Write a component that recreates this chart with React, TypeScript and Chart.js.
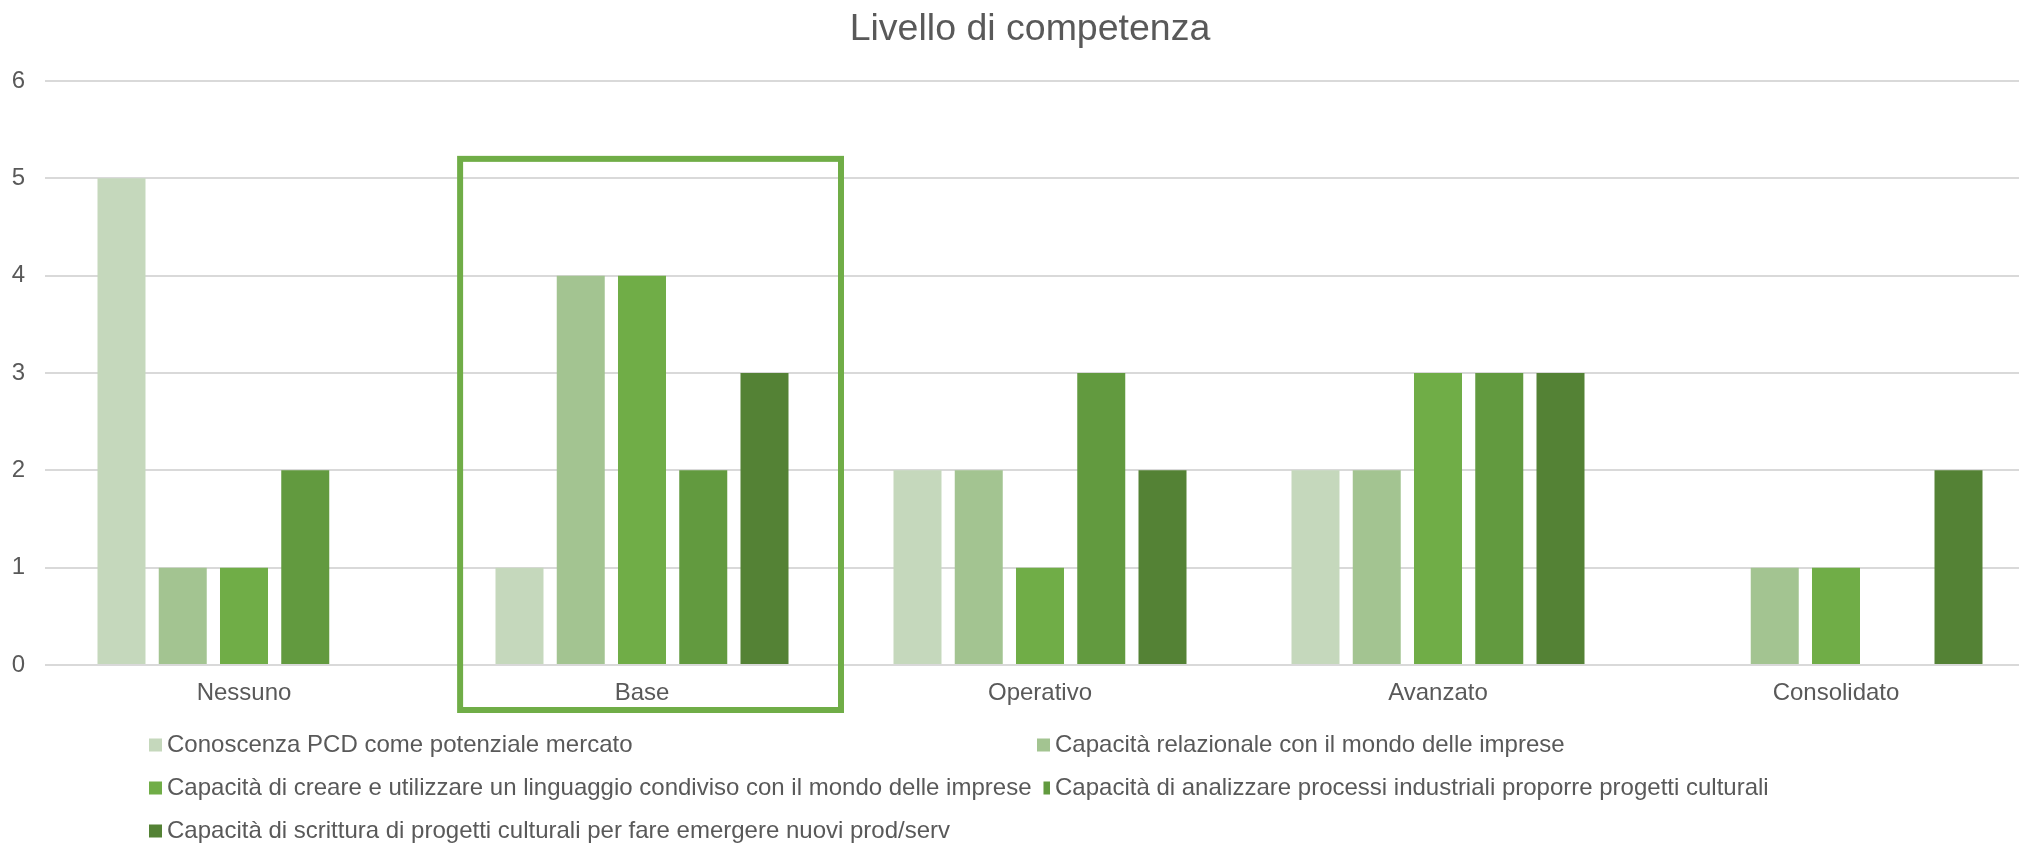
import React, { useEffect, useRef } from 'react';
import { Chart, registerables } from 'chart.js';

Chart.register(...registerables);

const TITLE = 'Livello di competenza';
const CATEGORIES = ['Nessuno', 'Base', 'Operativo', 'Avanzato', 'Consolidato'];
const SERIES_NAMES = [
  'Conoscenza PCD come potenziale mercato',
  'Capacità relazionale con il mondo delle imprese',
  'Capacità di creare e utilizzare un linguaggio condiviso con il mondo delle imprese',
  'Capacità di analizzare processi industriali proporre progetti culturali',
  'Capacità di scrittura di progetti culturali per fare emergere nuovi prod/serv',
];
const SERIES_1 = [5, 1, 2, 2, 0];
const SERIES_2 = [1, 4, 2, 2, 1];
const SERIES_3 = [1, 4, 1, 3, 1];
const SERIES_4 = [2, 2, 3, 3, 0];
const SERIES_5 = [0, 3, 2, 3, 2];
const Y_TICKS = [0, 1, 2, 3, 4, 5, 6];
const COLORS = ['#C5D8BC', '#A3C491', '#70AD47', '#629A3F', '#548235'];
const HIGHLIGHT_CATEGORY = 'Base';
const HIGHLIGHT_TOP_VALUE = 5.2;

const TEXT_COLOR = '#595959';
const FONT_FAMILY = '"Liberation Sans", Arial, sans-serif';

const titlePlugin = {
  id: 'customTitle',
  afterDraw(chart: any) {
    const ctx = chart.ctx;
    ctx.save();
    ctx.font = `37.5px ${FONT_FAMILY}`;
    ctx.fillStyle = TEXT_COLOR;
    ctx.textAlign = 'center';
    ctx.textBaseline = 'alphabetic';
    ctx.fillText(TITLE, chart.width / 2, 40);
    ctx.restore();
  },
};

const legendPlugin = {
  id: 'gridLegend',
  afterDraw(chart: any) {
    const ctx = chart.ctx;
    const area = chart.chartArea;
    ctx.save();
    ctx.font = `24px ${FONT_FAMILY}`;
    ctx.textBaseline = 'middle';
    ctx.textAlign = 'left';
    const cols = [149, 1037];
    const rowStart = area.bottom + 80;
    const rowGap = 43;
    const box = 13;
    let prevEnd = -Infinity;
    chart.data.datasets.forEach((ds: any, i: number) => {
      const col = i % 2;
      const row = Math.floor(i / 2);
      const x = cols[col];
      const y = rowStart + row * rowGap;
      const mLeft = col === 0 ? x : Math.max(x, prevEnd + 12);
      const mRight = x + box;
      ctx.fillStyle = ds.backgroundColor;
      if (mRight > mLeft) ctx.fillRect(mLeft, y - box / 2, mRight - mLeft, box);
      ctx.fillStyle = TEXT_COLOR;
      const tx = x + 18;
      ctx.fillText(ds.label, tx, y);
      prevEnd = col === 0 ? tx + ctx.measureText(ds.label).width : -Infinity;
    });
    ctx.restore();
  },
};

const highlightPlugin = {
  id: 'highlightBox',
  afterDraw(chart: any) {
    const xs = chart.scales.x;
    const ys = chart.scales.y;
    const idx = CATEGORIES.indexOf(HIGHLIGHT_CATEGORY);
    if (idx < 0) return;
    const cx = xs.getPixelForValue(idx);
    const catW = xs.width / CATEGORIES.length;
    const left = cx - 0.457 * catW;
    const right = cx + 0.5 * catW;
    const top = ys.getPixelForValue(HIGHLIGHT_TOP_VALUE);
    const bottom = chart.chartArea.bottom + 45;
    const ctx = chart.ctx;
    ctx.save();
    ctx.strokeStyle = '#70AD47';
    ctx.lineWidth = 6;
    ctx.strokeRect(left, top, right - left, bottom - top);
    ctx.restore();
  },
};

export default function App() {
  const canvasRef = useRef<HTMLCanvasElement | null>(null);

  useEffect(() => {
    const canvas = canvasRef.current;
    if (!canvas) return;
    const seriesValues = [SERIES_1, SERIES_2, SERIES_3, SERIES_4, SERIES_5];
    const chart = new Chart(canvas, {
      type: 'bar',
      data: {
        labels: CATEGORIES,
        datasets: seriesValues.map((vals, i) => ({
          label: SERIES_NAMES[i],
          data: vals,
          backgroundColor: COLORS[i],
          borderWidth: 0,
          categoryPercentage: 0.7695,
          barPercentage: 0.7837,
        })),
      },
      options: {
        responsive: false,
        maintainAspectRatio: false,
        devicePixelRatio: 1,
        animation: false,
        layout: { padding: { top: 81, right: 25, left: 0, bottom: 0 } },
        plugins: {
          legend: { display: false },
          title: { display: false },
          tooltip: { enabled: false },
        },
        scales: {
          x: {
            grid: { display: false, drawTicks: false },
            border: { display: false },
            ticks: {
              color: TEXT_COLOR,
              font: { family: FONT_FAMILY, size: 24 },
              padding: 14,
              maxRotation: 0,
              autoSkip: false,
            },
            afterFit(scale: any) {
              scale.height = 178;
            },
          },
          y: {
            min: 0,
            max: 6,
            grid: { color: '#D9D9D9', lineWidth: 2, drawTicks: false },
            border: { display: false },
            ticks: {
              color: TEXT_COLOR,
              font: { family: FONT_FAMILY, size: 24 },
              padding: 20,
            },
            afterBuildTicks(scale: any) {
              scale.ticks = Y_TICKS.map((v) => ({ value: v }));
            },
            afterFit(scale: any) {
              scale.width = 45;
            },
          },
        },
      },
      plugins: [titlePlugin, legendPlugin, highlightPlugin],
    });
    return () => chart.destroy();
  }, []);

  return (
    <div
      style={{
        position: 'fixed',
        left: 0,
        top: 0,
        width: 2019,
        height: 843,
        overflow: 'hidden',
        background: '#ffffff',
      }}
    >
      <canvas ref={canvasRef} width={2060} height={843} style={{ display: 'block' }} />
    </div>
  );
}
